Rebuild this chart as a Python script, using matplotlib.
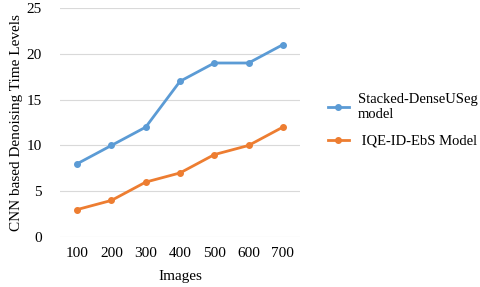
import numpy as np
import matplotlib.pyplot as plt

plt.rcParams['font.family'] = 'Liberation Serif'

images = ['100', '200', '300', '400', '500', '600', '700']
stacked = [8, 10, 12, 17, 19, 19, 21]
iqe = [3, 4, 6, 7, 9, 10, 12]

fig = plt.figure(figsize=(4.8, 2.87), dpi=100)
ax = fig.add_axes([0.125, 0.174, 0.5, 0.798])

x = np.arange(len(images))
ax.plot(x, stacked, color='#5B9BD5', lw=2, marker='o', ms=4, label='Stacked-DenseUSeg\nmodel')
ax.plot(x, iqe, color='#ED7D31', lw=2, marker='o', ms=4, label=' IQE-ID-EbS Model')

ax.set_xlim(-0.5, len(images) - 0.5)
ax.set_ylim(0, 25)
ax.set_yticks([0, 5, 10, 15, 20, 25])
ax.set_xticks(x)
ax.set_xticklabels(images)
ax.grid(axis='y', color='#D9D9D9', lw=0.8)
ax.set_axisbelow(True)
for s in ax.spines.values():
    s.set_visible(False)
ax.tick_params(axis='y', length=0, labelsize=11, pad=13)
ax.tick_params(axis='x', length=0, labelsize=11, pad=7)
ax.set_xlabel('Images', fontsize=11, labelpad=7)
ax.set_ylabel('CNN based Denoising Time Levels', fontsize=11, labelpad=3)

fig.legend(loc='center left', bbox_to_anchor=(0.655, 0.58), frameon=False,
           fontsize=10.5, handlelength=1.5, handletextpad=0.6, labelspacing=0.9)

fig.savefig('out.png', dpi=100)
